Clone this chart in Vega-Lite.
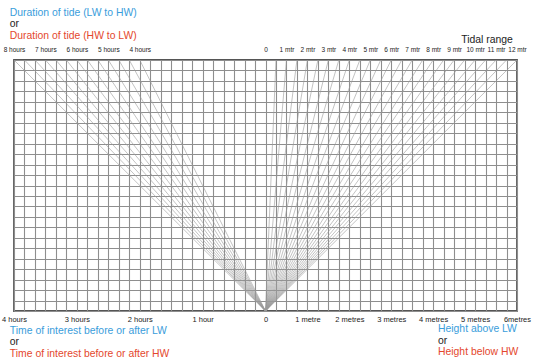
{
  "$schema": "https://vega.github.io/schema/vega-lite/v6.json",
  "width": 503,
  "height": 251,
  "autosize": {"type": "none"},
  "padding": {"left": 14, "top": 60, "right": 21, "bottom": 51},
  "background": "white",
  "config": {
    "view": {"stroke": "#555555", "strokeWidth": 1.8},
    "font": "Liberation Sans"
  },
  "resolve": {"axis": {"x": "independent", "y": "independent"}},
  "layer": [
    {
      "data": {"values": [
        {"end": -24}, {"end": -23}, {"end": -22}, {"end": -21}, {"end": -20}, {"end": -19}, {"end": -18},
        {"end": -17}, {"end": -16}, {"end": -15}, {"end": -14}, {"end": -13}, {"end": -12}
      ]},
      "mark": {"type": "rule", "color": "#9a9a9a", "strokeWidth": 0.6},
      "encoding": {
        "x": {"field": "end", "type": "quantitative",
          "scale": {"domain": [-24, 24], "nice": false, "zero": false},
          "axis": {
            "orient": "bottom",
            "values": [-24,-23,-22,-21,-20,-19,-18,-17,-16,-15,-14,-13,-12,-11,-10,-9,-8,-7,-6,-5,-4,-3,-2,-1,0,1,2,3,4,5,6,7,8,9,10,11,12,13,14,15,16,17,18,19,20,21,22,23,24],
            "labelExpr": "datum.value==-24?'4 hours':datum.value==-18?'3 hours':datum.value==-12?'2 hours':datum.value==-6?'1 hour':datum.value==0?'0':datum.value==4?'1 metre':datum.value==8?'2 metres':datum.value==12?'3 metres':datum.value==16?'4 metres':datum.value==20?'5 metres':datum.value==24?'6metres':''",
            "grid": true, "gridColor": "#8e8e8e", "gridWidth": 1.1, "gridOpacity": 1,
            "ticks": false, "domain": false, "title": null,
            "labelFontSize": 7.5, "labelColor": "#222222", "labelPadding": 4,
            "labelOverlap": false, "labelFlush": false, "labelBound": false
          }},
        "y": {"datum": 24, "type": "quantitative",
          "scale": {"domain": [0, 24], "nice": false, "zero": false},
          "axis": {
            "values": [0,1,2,3,4,5,6,7,8,9,10,11,12,13,14,15,16,17,18,19,20,21,22,23,24],
            "grid": true, "gridColor": "#8e8e8e", "gridWidth": 1.1, "gridOpacity": 1,
            "labels": false, "ticks": false, "domain": false, "title": null
          }},
        "x2": {"datum": 0},
        "y2": {"datum": 0}
      }
    },
    {
      "data": {"values": [
        {"end": 1}, {"end": 2}, {"end": 3}, {"end": 4}, {"end": 5}, {"end": 6}, {"end": 7}, {"end": 8},
        {"end": 9}, {"end": 10}, {"end": 11}, {"end": 12}, {"end": 13}, {"end": 14}, {"end": 15}, {"end": 16},
        {"end": 17}, {"end": 18}, {"end": 19}, {"end": 20}, {"end": 21}, {"end": 22}, {"end": 23}, {"end": 24}
      ]},
      "mark": {"type": "rule", "color": "#9a9a9a", "strokeWidth": 0.6},
      "encoding": {
        "x": {"field": "end", "type": "quantitative",
          "scale": {"domain": [-24, 24], "nice": false, "zero": false},
          "axis": {
            "orient": "top",
            "values": [-24,-21,-18,-15,-12,0,2,4,6,8,10,12,14,16,18,20,22,24],
            "labelExpr": "datum.value<0?(-datum.value/3)+' hours':datum.value==0?'0':(datum.value/2)+' mtr'",
            "grid": false, "ticks": false, "domain": false, "title": null,
            "labelFontSize": 6.5, "labelColor": "#222222", "labelPadding": 8,
            "labelOverlap": false, "labelFlush": false, "labelBound": false
          }},
        "y": {"datum": 24, "type": "quantitative",
          "scale": {"domain": [0, 24], "nice": false, "zero": false}, "axis": null},
        "x2": {"datum": 0},
        "y2": {"datum": 0}
      }
    },
    {
      "data": {"values": [{"label": "Duration of tide (LW to HW)"}]},
      "mark": {"type": "text", "align": "left", "baseline": "middle", "fontSize": 10.4, "color": "#3a9ddb"},
      "encoding": {
        "x": {"datum": -24.4, "type": "quantitative", "scale": {"domain": [-24, 24], "nice": false, "zero": false}, "axis": null},
        "y": {"datum": 28.5, "type": "quantitative", "scale": {"domain": [0, 24], "nice": false, "zero": false}, "axis": null},
        "text": {"field": "label"}
      }
    },
    {
      "data": {"values": [{"label": "or"}]},
      "mark": {"type": "text", "align": "left", "baseline": "middle", "fontSize": 10.4, "color": "#222222"},
      "encoding": {
        "x": {"datum": -24.4, "type": "quantitative", "scale": {"domain": [-24, 24], "nice": false, "zero": false}, "axis": null},
        "y": {"datum": 27.4, "type": "quantitative", "scale": {"domain": [0, 24], "nice": false, "zero": false}, "axis": null},
        "text": {"field": "label"}
      }
    },
    {
      "data": {"values": [{"label": "Duration of tide (HW to LW)"}]},
      "mark": {"type": "text", "align": "left", "baseline": "middle", "fontSize": 10.4, "color": "#e4472d"},
      "encoding": {
        "x": {"datum": -24.4, "type": "quantitative", "scale": {"domain": [-24, 24], "nice": false, "zero": false}, "axis": null},
        "y": {"datum": 26.25, "type": "quantitative", "scale": {"domain": [0, 24], "nice": false, "zero": false}, "axis": null},
        "text": {"field": "label"}
      }
    },
    {
      "data": {"values": [{"label": "Tidal range"}]},
      "mark": {"type": "text", "align": "right", "baseline": "middle", "fontSize": 10.4, "color": "#222222"},
      "encoding": {
        "x": {"datum": 23.6, "type": "quantitative", "scale": {"domain": [-24, 24], "nice": false, "zero": false}, "axis": null},
        "y": {"datum": 25.9, "type": "quantitative", "scale": {"domain": [0, 24], "nice": false, "zero": false}, "axis": null},
        "text": {"field": "label"}
      }
    },
    {
      "data": {"values": [{"label": "Time of interest before or after LW"}]},
      "mark": {"type": "text", "align": "left", "baseline": "middle", "fontSize": 10.4, "color": "#3a9ddb"},
      "encoding": {
        "x": {"datum": -24.4, "type": "quantitative", "scale": {"domain": [-24, 24], "nice": false, "zero": false}, "axis": null},
        "y": {"datum": -1.9, "type": "quantitative", "scale": {"domain": [0, 24], "nice": false, "zero": false}, "axis": null},
        "text": {"field": "label"}
      }
    },
    {
      "data": {"values": [{"label": "or"}]},
      "mark": {"type": "text", "align": "left", "baseline": "middle", "fontSize": 10.4, "color": "#222222"},
      "encoding": {
        "x": {"datum": -24.4, "type": "quantitative", "scale": {"domain": [-24, 24], "nice": false, "zero": false}, "axis": null},
        "y": {"datum": -3.0, "type": "quantitative", "scale": {"domain": [0, 24], "nice": false, "zero": false}, "axis": null},
        "text": {"field": "label"}
      }
    },
    {
      "data": {"values": [{"label": "Time of interest before or after HW"}]},
      "mark": {"type": "text", "align": "left", "baseline": "middle", "fontSize": 10.4, "color": "#e4472d"},
      "encoding": {
        "x": {"datum": -24.4, "type": "quantitative", "scale": {"domain": [-24, 24], "nice": false, "zero": false}, "axis": null},
        "y": {"datum": -4.1, "type": "quantitative", "scale": {"domain": [0, 24], "nice": false, "zero": false}, "axis": null},
        "text": {"field": "label"}
      }
    },
    {
      "data": {"values": [{"label": "Height above LW"}]},
      "mark": {"type": "text", "align": "left", "baseline": "middle", "fontSize": 10.4, "color": "#3a9ddb"},
      "encoding": {
        "x": {"datum": 16.46, "type": "quantitative", "scale": {"domain": [-24, 24], "nice": false, "zero": false}, "axis": null},
        "y": {"datum": -1.75, "type": "quantitative", "scale": {"domain": [0, 24], "nice": false, "zero": false}, "axis": null},
        "text": {"field": "label"}
      }
    },
    {
      "data": {"values": [{"label": "or"}]},
      "mark": {"type": "text", "align": "left", "baseline": "middle", "fontSize": 10.4, "color": "#222222"},
      "encoding": {
        "x": {"datum": 16.46, "type": "quantitative", "scale": {"domain": [-24, 24], "nice": false, "zero": false}, "axis": null},
        "y": {"datum": -2.85, "type": "quantitative", "scale": {"domain": [0, 24], "nice": false, "zero": false}, "axis": null},
        "text": {"field": "label"}
      }
    },
    {
      "data": {"values": [{"label": "Height below HW"}]},
      "mark": {"type": "text", "align": "left", "baseline": "middle", "fontSize": 10.4, "color": "#e4472d"},
      "encoding": {
        "x": {"datum": 16.46, "type": "quantitative", "scale": {"domain": [-24, 24], "nice": false, "zero": false}, "axis": null},
        "y": {"datum": -3.95, "type": "quantitative", "scale": {"domain": [0, 24], "nice": false, "zero": false}, "axis": null},
        "text": {"field": "label"}
      }
    }
  ]
}
